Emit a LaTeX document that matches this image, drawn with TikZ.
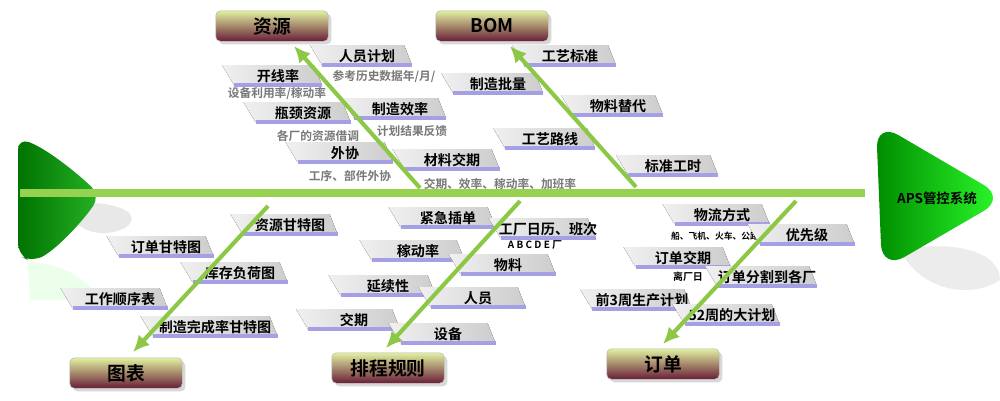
\documentclass[tikz,border=0pt]{standalone}
\usepackage{fontspec}
\setmainfont{Noto Sans CJK SC}[BoldFont={Noto Sans CJK SC Bold}]
\usetikzlibrary{arrows.meta,shadows}
\definecolor{bone}{RGB}{140,200,70}
\definecolor{spine}{RGB}{150,210,80}
\definecolor{uline}{RGB}{165,160,230}
\definecolor{tabg}{RGB}{205,205,205}
\definecolor{boxtop}{RGB}{225,240,160}
\definecolor{boxbot}{RGB}{105,30,55}
\definecolor{annot}{RGB}{120,120,120}
\tikzset{
  cat/.style={rounded corners=4pt,draw=gray!60,top color=boxtop,bottom color=boxbot,minimum width=96pt,minimum height=26pt,font=\fontsize{16}{16}\bfseries,drop shadow={opacity=0.3}},
  bonearrow/.style={bone,line width=3.5pt,-{Latex[length=14pt,width=13pt]}},
  itemtext/.style={font=\fontsize{12}{12}\bfseries,inner sep=0pt},
  notetext/.style={font=\fontsize{10}{10}\bfseries,text=annot,inner sep=0pt},
  smallnote/.style={font=\fontsize{7.5}{7.5}\bfseries,inner sep=0pt},
}
\newcommand\itm[5]{%
  \fill[left color=tabg!30,right color=tabg] ({#2-#4/2-12},{#3-11}) -- ({#2+#4/2-8},{#3-11}) -- ({#2+#4/2},{#3+9}) -- ({#2-#4/2},{#3+9}) -- cycle;
  \draw[uline,line width=2.6pt] ({#2-#4/2},{#3+9}) -- ({#2+#4/2},{#3+9});
  \node[itemtext] (#1) at (#2,#3) {#5};}
\begin{document}
\begin{tikzpicture}[x=0.3mm,y=-0.3mm]
\useasboundingbox (0,0) rectangle (1000,400);
\fill[white] (0,0) rectangle (1000,400);
% tail
\fill[gray!18] (70,205) .. controls (100,198) and (150,210) .. (125,228) .. controls (100,240) and (70,230) .. cycle;
\fill[green!8] (28,262) .. controls (60,262) and (90,280) .. (100,300) -- (30,300) -- cycle;
\shade[left color=green!45!black,right color=green!65!black!85, rounded corners=10pt] (18,138) .. controls (50,150) and (85,180) .. (100,196) .. controls (80,225) and (55,250) .. (32,262) -- (18,255) -- cycle;
% head
\fill[gray!15] (900,250) .. controls (950,240) and (1000,250) .. (1000,280) .. controls (970,300) and (920,290) .. cycle;
\shade[left color=green!55!black,right color=green!75!white!70!green, rounded corners=22pt] (876,122) -- (1006,198) -- (882,270) -- cycle;
\node[font=\fontsize{11.5}{11.5}\bfseries] (aps) at (937,198) {APS管控系统};
% spine
\draw[spine,line width=6.5pt] (20,193) coordinate (sp0) -- (865,193) coordinate (sp1);
% boxes
\node[cat] (ziyuan) at (272,26) {资源};
\node[cat] (bom) at (492,26) {BOM};
\node[cat] (tubiao) at (126,373) {图表};
\node[cat] (paicheng) at (388,368) {排程规则};
\node[cat] (dingdan) at (663,364) {订单};
% items top-left
\itm{r1}{367}{56}{90}{人员计划}
\node[notetext] (n1) at (384,77) {参考历史数据年/月/};
\itm{r2}{278}{76}{88}{开线率}
\node[notetext] (n2) at (277,94) {设备利用率/稼动率};
\itm{r3}{303}{113}{95}{瓶颈资源}
\itm{r4}{400}{109}{92}{制造效率}
\node[notetext] (n3) at (318,136) {各厂的资源借调};
\node[notetext] (n4) at (412,131) {计划结果反馈};
\itm{r5}{345}{153}{95}{外协}
\node[notetext] (n5) at (350,176) {工序、部件外协};
\itm{r6}{452}{160}{95}{材料交期}
\node[notetext] (n6) at (500,184) {交期、效率、稼动率、加班率};
% BOM
\itm{b1}{570}{56}{92}{工艺标准}
\itm{b2}{498}{84}{90}{制造批量}
\itm{b3}{618}{106}{90}{物料替代}
\itm{b4}{550}{139}{90}{工艺路线}
\itm{b5}{673}{166}{90}{标准工时}
% 图表
\itm{t1}{290}{225}{95}{资源甘特图}
\itm{t2}{166}{247}{95}{订单甘特图}
\itm{t3}{240}{273}{95}{库存负荷图}
\itm{t4}{120}{299}{95}{工作顺序表}
\itm{t5}{215}{327}{125}{制造完成率甘特图}
% 排程规则
\itm{p1}{448}{218}{95}{紧急插单}
\itm{p2}{548}{229}{95}{工厂日历、班次}
\node[font=\fontsize{8.5}{8.5}\bfseries] (p2n) at (535,245) {A B C D E 厂};
\itm{p3}{418}{251}{93}{稼动率}
\itm{p4}{508}{265}{95}{物料}
\itm{p5}{388}{286}{95}{延续性}
\itm{p6}{478}{298}{95}{人员}
\itm{p7}{354}{320}{92}{交期}
\itm{p8}{448}{334}{95}{设备}
% 订单
\itm{o1}{722}{215}{95}{物流方式}
\node[smallnote] (o1n) at (715,236) {船、飞机、火车、公路};
\itm{o2}{807}{235}{95}{优先级}
\itm{o3}{683}{258}{95}{订单交期}
\node[font=\fontsize{8.5}{8.5}\bfseries,inner sep=0pt] (o3n) at (688,277) {离厂日};
\itm{o4}{767}{277}{100}{订单分割到各厂}
\itm{o5}{642}{300}{100}{前3周生产计划}
\itm{o6}{732}{315}{95}{52周的大计划}
% bones
\coordinate (s1) at (420,188);
\coordinate (s2) at (636,187);
\coordinate (s3) at (268,206);
\coordinate (s4) at (520,201);
\coordinate (s5) at (796,201);
\draw[bonearrow] (s1) -- (294,46);
\draw[bonearrow] (s2) -- (510,46);
\draw[bonearrow] (s3) -- (133,352);
\draw[bonearrow] (s4) -- (386,348);
\draw[bonearrow] (s5) -- (663,344);
\end{tikzpicture}
\end{document}
